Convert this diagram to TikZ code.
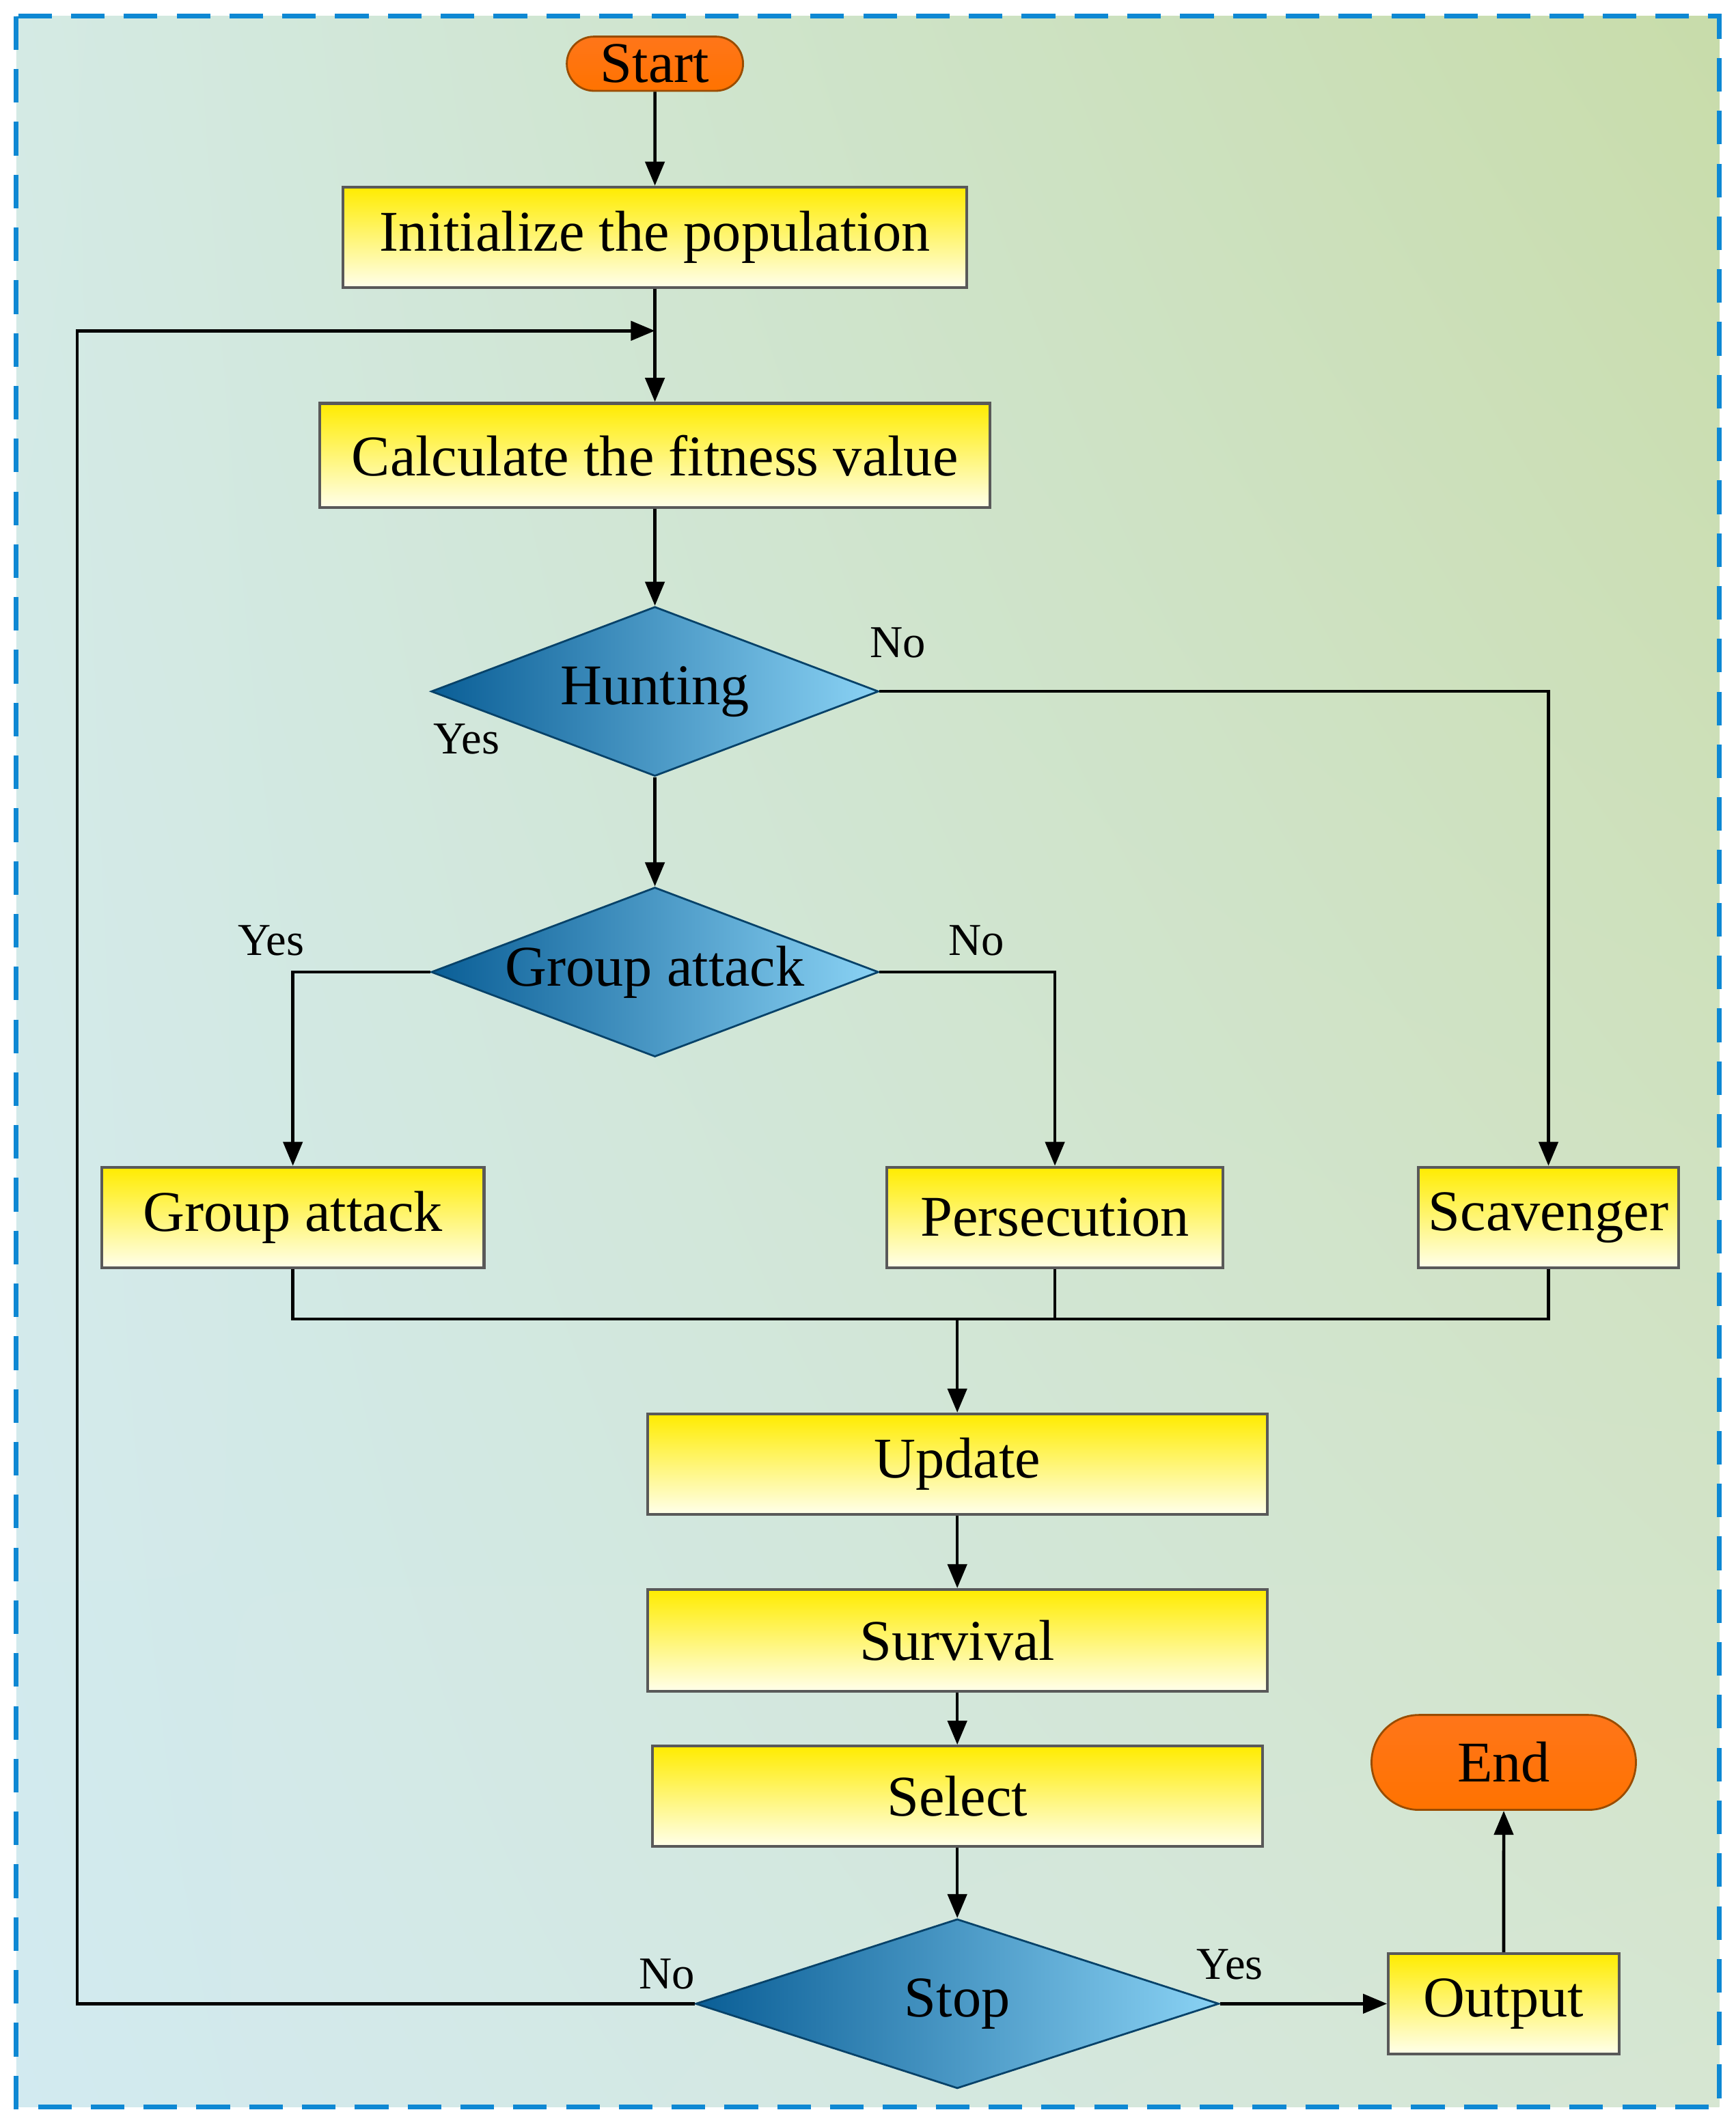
\documentclass[tikz,border=0pt]{standalone}
\usepackage{fontspec}
\setmainfont{Liberation Serif}
\usetikzlibrary{shapes.geometric,shapes.misc,arrows.meta,shadings}
\definecolor{bgA}{HTML}{D4EAE4}
\definecolor{bgB}{HTML}{C8DCAA}
\definecolor{bgC}{HTML}{D2EAF0}
\definecolor{bgD}{HTML}{D6E6D2}
\definecolor{dk}{HTML}{0A5E96}
\definecolor{lt}{HTML}{8AD2F4}
\begin{document}
\begin{tikzpicture}[x=0.01985cm,y=-0.01985cm,
 box/.style={draw=gray!70!black,line width=1.2pt,top color=yellow!85!orange,bottom color=yellow!8,minimum height=74*0.01985cm,inner sep=0pt,font=\fontsize{24}{28}\selectfont},
 dia/.style={diamond,draw=dk!70!black,line width=0.8pt,left color=dk,right color=lt,aspect=2.64,inner sep=0pt,minimum width=330*0.01985cm,minimum height=125*0.01985cm,font=\fontsize{24}{28}\selectfont},
 pill/.style={rounded rectangle,draw=orange!60!black,line width=0.8pt,top color=orange!80!red!90,bottom color=orange!90!red,font=\fontsize{24}{28}\selectfont,inner sep=0pt},
 lab/.style={font=\fontsize{19}{22}\selectfont},
 ar/.style={-{Triangle[length=10pt,width=8pt]},line width=1.3pt},
 ln/.style={line width=1.3pt}]
\useasboundingbox (0,0) rectangle (1280,1566);
\shade[upper left=bgA,upper right=bgB,lower left=bgC,lower right=bgD] (12,12) rectangle (1268,1554);
\draw[cyan!70!blue,line width=2pt,dash pattern=on 14pt off 8pt] (12,12) rectangle (1268,1554);
\node[pill,minimum width=130*0.01985cm,minimum height=40*0.01985cm] (start) at (483,47) {Start};
\node[box,minimum width=460*0.01985cm] (init) at (483,175) {Initialize the population};
\node[box,minimum width=494*0.01985cm,minimum height=77*0.01985cm] (calc) at (483,336) {Calculate the fitness value};
\node[dia] (hunt) at (483,510) {Hunting};
\node[dia] (ga) at (483,717) {Group attack};
\node[box,minimum width=282*0.01985cm] (gab) at (216,898) {Group attack};
\node[box,minimum width=248*0.01985cm] (per) at (778,898) {Persecution};
\node[box,minimum width=192*0.01985cm] (sca) at (1142,898) {Scavenger};
\node[box,minimum width=457*0.01985cm] (upd) at (706,1080) {Update};
\node[box,minimum width=457*0.01985cm,minimum height=75*0.01985cm] (sur) at (706,1210) {Survival};
\node[box,minimum width=450*0.01985cm] (sel) at (706,1325) {Select};
\node[dia,minimum width=386*0.01985cm,aspect=3.1] (stop) at (706,1478) {Stop};
\node[box,minimum width=170*0.01985cm] (out) at (1109,1478) {Output};
\node[pill,minimum width=195*0.01985cm,minimum height=70*0.01985cm] (end) at (1109,1300) {End};
\coordinate (m) at (706,973);
\coordinate (lp) at (483,244);
\draw[ar] (start) -- (init);
\draw[ar] (init) -- (calc);
\draw[ar] (calc) -- (hunt);
\draw[ar] (hunt) -- (ga);
\draw[ar] (hunt.east) -| (sca.north);
\draw[ar] (ga.west) -| (gab.north);
\draw[ar] (ga.east) -| (per.north);
\draw[ln] (gab.south) |- (m);
\draw[ln] (sca.south) |- (m);
\draw[ln] (per.south) -- (per.south|-m);
\draw[ar] (m) -- (upd);
\draw[ar] (upd) -- (sur);
\draw[ar] (sur) -- (sel);
\draw[ar] (sel) -- (stop);
\draw[ar] (stop.east) -- (out);
\draw[ar] (out) -- (end);
\draw[ar] (stop.west) -| (57,244) -- (lp);
\node[lab] at (662,474) {No};
\node[lab] at (344,545) {Yes};
\node[lab] at (200,694) {Yes};
\node[lab] at (720,694) {No};
\node[lab] at (492,1456) {No};
\node[lab] at (907,1449) {Yes};
\end{tikzpicture}
\end{document}
